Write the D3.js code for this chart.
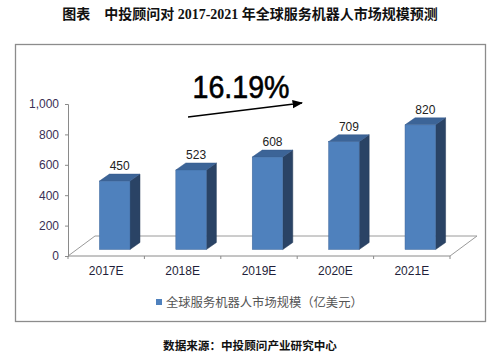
<!DOCTYPE html>
<html><head><meta charset="utf-8">
<script src="https://cdn.jsdelivr.net/npm/d3@7"></script>
<style>body{margin:0;background:#fff}svg{display:block}</style>
</head><body>
<svg id="c" width="500" height="358"></svg>
<script>
const categories = ["2017E","2018E","2019E","2020E","2021E"];
const values = [450,523,608,709,820];
const yTicks = [0,200,400,600,800,1000];
const seriesName = "全球服务机器人市场规模（亿美元）";
const growthLabel = "16.19%";
const titleText = "图表　中投顾问对 2017-2021 年全球服务机器人市场规模预测";
const sourceText = "数据来源：中投顾问产业研究中心";

const svg = d3.select("#c");
const cjk = "'Liberation Sans','Noto Sans CJK SC',sans-serif";

// title
svg.append("text").attr("x",250).attr("y",19).attr("text-anchor","middle")
  .attr("font-family","'Liberation Serif','Noto Sans CJK SC',serif").attr("font-weight","bold")
  .attr("font-size",14).attr("fill","#111").text(titleText);

// chart box
svg.append("rect").attr("x",15.5).attr("y",44.5).attr("width",470).attr("height",277)
  .attr("fill","#fff").attr("stroke","#8c8c8c").attr("stroke-width",1.3);

const x0 = 68, x1 = 450;
const x = d3.scaleBand().domain(categories).range([x0,x1]).paddingInner(0.6).paddingOuter(0.3);
const xa = d3.scaleBand().domain(categories).range([x0,x1]).padding(0);
const y = d3.scaleLinear().domain([0,1000]).range([256,104]);

const floorD = {dx:27, dy:-20};
const barD = {dx:10, dy:-7};
const off = {dx:(floorD.dx-barD.dx)/2, dy:(floorD.dy-barD.dy)/2};

// floor
const fy = y(0);
svg.append("path")
  .attr("d",`M${x0},${fy}L${x0+floorD.dx},${fy+floorD.dy}L${x1+floorD.dx},${fy+floorD.dy}L${x1},${fy}`)
  .attr("fill","none").attr("stroke","#9a9a9a").attr("stroke-width",1);

// y axis
const yAxis = d3.axisLeft(y).tickValues(yTicks).tickFormat(d3.format(",")).tickSize(3).tickPadding(6);
const ga = svg.append("g").attr("transform",`translate(${x0},0)`).call(yAxis);
ga.select(".domain").attr("stroke","#8a8a8a");
ga.selectAll(".tick line").attr("stroke","#8a8a8a");
ga.selectAll(".tick text").attr("font-family","'Liberation Sans',Arial,sans-serif").attr("font-size",12).attr("fill","#3b2f55");

// x axis line and ticks
svg.append("line").attr("x1",x0).attr("x2",x1).attr("y1",fy).attr("y2",fy).attr("stroke","#8a8a8a");
const bounds = categories.map(c=>xa(c)).concat([x1]);
svg.selectAll(".xt").data(bounds).join("line").attr("class","xt")
  .attr("x1",d=>d).attr("x2",d=>d).attr("y1",fy).attr("y2",fy+3).attr("stroke","#8a8a8a");
svg.selectAll(".xl").data(categories).join("text").attr("class","xl")
  .attr("x",d=>xa(d)+xa.bandwidth()/2).attr("y",275).attr("text-anchor","middle")
  .attr("font-family","'Liberation Sans',Arial,sans-serif").attr("font-size",12).attr("fill","#1f1f3a").text(d=>d);

// bars
const bw = x.bandwidth();
const g = svg.append("g");
categories.forEach((c,i)=>{
  const v = values[i];
  const lx = x(c)+off.dx, rx = lx+bw;
  const by = y(0)+off.dy, ty = y(v)+off.dy;
  g.append("path").attr("d",`M${rx},${by}L${rx+barD.dx},${by+barD.dy}L${rx+barD.dx},${ty+barD.dy}L${rx},${ty}Z`)
    .attr("fill","#2a4365").attr("stroke","#243a58").attr("stroke-width",0.5);
  g.append("path").attr("d",`M${lx},${ty}L${lx+barD.dx},${ty+barD.dy}L${rx+barD.dx},${ty+barD.dy}L${rx},${ty}Z`)
    .attr("fill","#3c6497").attr("stroke","#34588a").attr("stroke-width",0.5);
  g.append("rect").attr("x",lx).attr("y",ty).attr("width",bw).attr("height",by-ty)
    .attr("fill","#4f81bd").attr("stroke","#41699c").attr("stroke-width",0.5);
  g.append("text").attr("x",lx+bw/2+5).attr("y",ty+barD.dy-4).attr("text-anchor","middle")
    .attr("font-family","'Liberation Sans',Arial,sans-serif").attr("font-size",12).attr("fill","#222").text(v);
});

// growth label and arrow
svg.append("text").attr("x",241).attr("y",98).attr("text-anchor","middle")
  .attr("font-family","'Liberation Sans',Arial,sans-serif").attr("font-size",31)
  .attr("textLength",97).attr("lengthAdjust","spacingAndGlyphs")
  .attr("fill","#000").attr("stroke","#000").attr("stroke-width",0.6).text(growthLabel);
svg.append("defs").append("marker").attr("id","ah").attr("viewBox","0 0 10 10").attr("refX",9).attr("refY",5)
  .attr("markerWidth",7).attr("markerHeight",7).attr("orient","auto")
  .append("path").attr("d","M0,1L10,5L0,9Z").attr("fill","#000");
svg.append("line").attr("x1",188).attr("y1",117).attr("x2",302).attr("y2",103)
  .attr("stroke","#000").attr("stroke-width",1.5).attr("marker-end","url(#ah)");

// legend
svg.append("rect").attr("x",156).attr("y",299).attr("width",6).attr("height",6).attr("fill","#4f81bd");
svg.append("text").attr("x",166).attr("y",306.5).attr("font-family",cjk).attr("font-size",12.3)
  .attr("fill","#555").text(seriesName);

// source
svg.append("text").attr("x",250).attr("y",350).attr("text-anchor","middle")
  .attr("font-family",cjk).attr("font-size",11.6).attr("font-weight","bold").attr("fill","#111").text(sourceText);
</script>
</body></html>
